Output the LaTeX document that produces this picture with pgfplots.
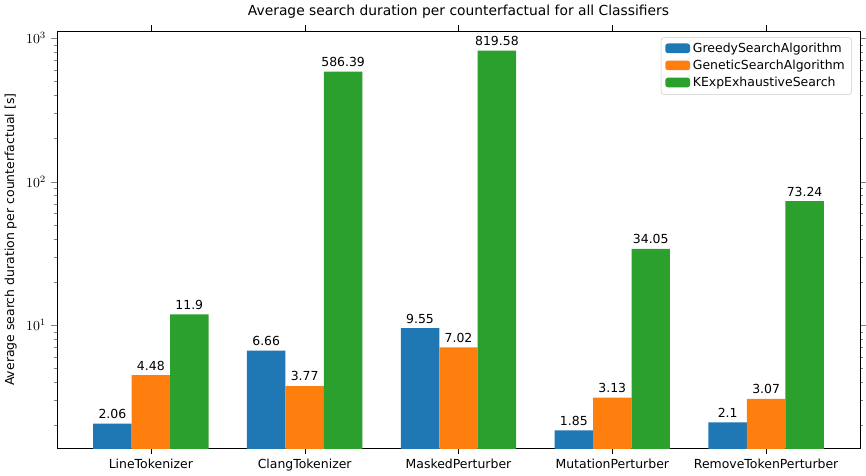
\documentclass[border=0pt]{standalone}
\usepackage{pgfplots}
\pgfplotsset{compat=1.18}
\usepackage{fontspec}
\setmainfont{DejaVu Sans}
\definecolor{tb}{HTML}{1F77B4}
\definecolor{to}{HTML}{FF7F0E}
\definecolor{tg}{HTML}{2CA02C}
\begin{document}
\begin{tikzpicture}
\begin{axis}[
  scale only axis, width=8.03in, height=4.17in,
  ymode=log, ymin=1.39, ymax=1120,
  xmin=-0.61, xmax=4.61,
  ybar=0pt, bar width=0.25,
  xtick={0,1,2,3,4},
  xticklabels={LineTokenizer,ClangTokenizer,MaskedPerturber,MutationPerturber,RemoveTokenPerturber},
  x tick label style={font=\small},
  xtick style={draw=black}, xtick align=outside,
  ytick align=outside, minor tick length=2pt,
  ylabel={Average search duration per counterfactual [s]},
  ylabel style={font=\small},
  title={Average search duration per counterfactual for all Classifiers},
  point meta=explicit symbolic,
  nodes near coords, every node near coord/.append style={font=\small, black},
  legend style={at={(0.99,0.985)}, anchor=north east, font=\small, draw=black!20, rounded corners=2pt, cells={anchor=west}},
  legend image code/.code={\fill[#1] (0pt,-3pt) rectangle (18pt,4pt);},
]
\addplot[fill=tb, draw=none] coordinates {(0,2.06)[2.06] (1,6.66)[6.66] (2,9.55)[9.55] (3,1.85)[1.85] (4,2.1)[2.1]};
\addplot[fill=to, draw=none] coordinates {(0,4.48)[4.48] (1,3.77)[3.77] (2,7.02)[7.02] (3,3.13)[3.13] (4,3.07)[3.07]};
\addplot[fill=tg, draw=none] coordinates {(0,11.9)[11.9] (1,586.39)[586.39] (2,819.58)[819.58] (3,34.05)[34.05] (4,73.24)[73.24]};
\legend{GreedySearchAlgorithm,GeneticSearchAlgorithm,KExpExhaustiveSearch}
\end{axis}
\end{tikzpicture}
\end{document}
